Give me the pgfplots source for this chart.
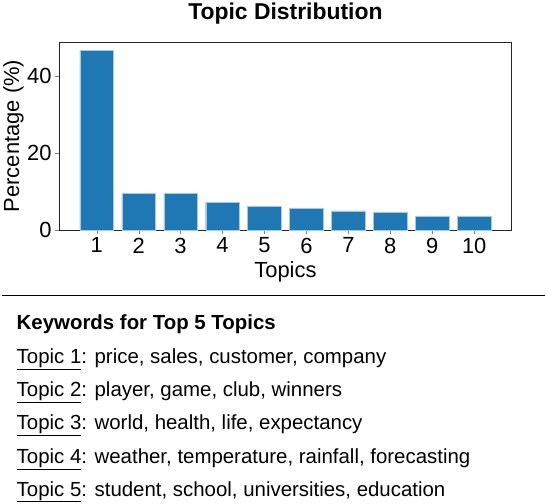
\documentclass[border=0pt]{standalone}
\usepackage{pgfplots}
\pgfplotsset{compat=1.18}
\usepackage{fontspec}
\setmainfont{Liberation Sans}
\definecolor{tabblue}{HTML}{1F77B4}
\begin{document}
\begin{tikzpicture}[x=1pt,y=1pt]
\path (0,0) rectangle (546,497);
\begin{axis}[at={(58pt,274pt)},anchor=south west,scale only axis,
  width=454pt,height=189pt,
  xmin=0.11,xmax=10.89,ymin=0,ymax=49,
  xtick={1,...,10},ytick={0,20,40},
  tick align=outside,tick pos=left,
  ticklabel style={font=\fontsize{22}{24}\selectfont},
  /pgf/number format/assume math mode=true,
  xlabel={Topics},ylabel={Percentage (\%)},
  label style={font=\fontsize{22}{24}\selectfont},
  xlabel style={at={(axis description cs:0.5,0)},anchor=center,yshift=-42pt},
  ylabel style={at={(axis description cs:0,0.5)},anchor=center,yshift=46pt},
  title={\textbf{Topic Distribution}},
  title style={font=\fontsize{23}{26}\selectfont,at={(axis description cs:0.5,1)},anchor=center,yshift=22pt},
  axis line style={black!85}]
\addplot[ybar,bar width=0.8,fill=tabblue,draw=tabblue!40] coordinates {
(1,46.8)(2,9.5)(3,9.5)(4,7.3)(5,6.2)(6,5.7)(7,5.0)(8,4.6)(9,3.5)(10,3.5)};
\end{axis}
\draw[line width=1.2pt] (0,208) -- (546,208);
\begin{scope}[every node/.style={anchor=base west,inner sep=0pt,font=\fontsize{20.5}{24}\selectfont}]
\node at (15,174) {\textbf{Keywords for Top 5 Topics}};
\node at (15,140) {\underline{Topic 1}: price, sales, customer, company};
\node at (15,107) {\underline{Topic 2}: player, game, club, winners};
\node at (15,74) {\underline{Topic 3}: world, health, life, expectancy};
\node at (15,40) {\underline{Topic 4}: weather, temperature, rainfall, forecasting};
\node at (15,7) {\underline{Topic 5}: student, school, universities, education};
\end{scope}
\end{tikzpicture}
\end{document}
